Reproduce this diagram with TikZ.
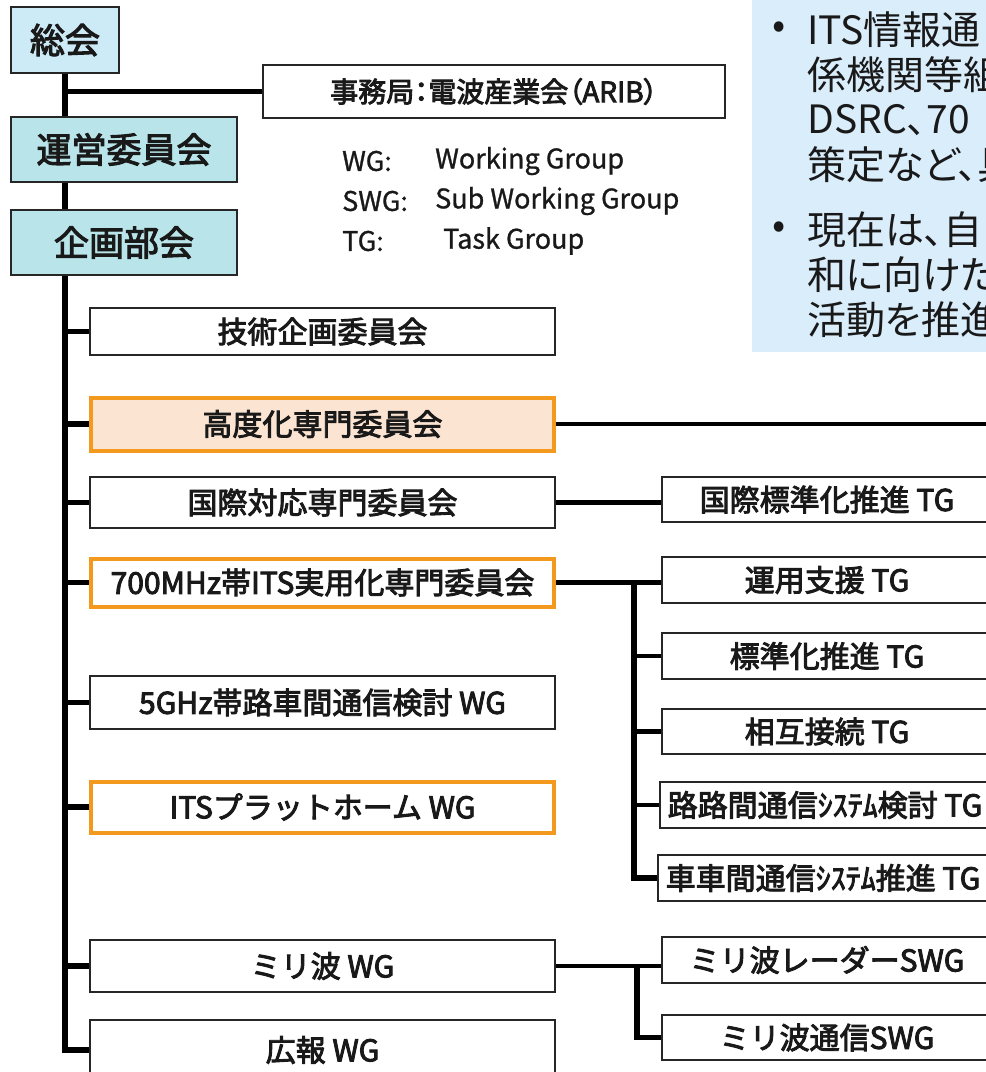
\documentclass[tikz,border=0pt]{standalone}
\usepackage{fontspec}
\usetikzlibrary{backgrounds}
\newfontfamily\jp{Noto Sans CJK JP}[FakeBold=1]
\newfontfamily\jpm{Noto Sans CJK JP}[FakeBold=3]
\newfontfamily\jpmp{Noto Sans CJK JP}[FakeBold=3,RawFeature=+palt]
\newfontfamily\jpp{Noto Sans CJK JP}[RawFeature=+palt]
\definecolor{sokaiC}{HTML}{CDEAF7}
\definecolor{uneiC}{HTML}{B9E5EA}
\definecolor{blueBox}{HTML}{DAEDFB}
\definecolor{peachC}{HTML}{FCE4D2}
\definecolor{orangeB}{HTML}{F39A1E}
\begin{document}
\begin{tikzpicture}[x=1pt,y=-1pt,
  box/.style={draw=black!85,line width=1.3pt,fill=white,inner sep=0pt,text=black!90,font=\jpm\fontsize{30}{34}\selectfont},
  topbox/.style={box,font=\jpm\fontsize{35}{40}\selectfont},
  hlbox/.style={box,draw=orangeB,line width=4pt},
  trunk/.style={line width=5.5pt,draw=black},
  subline/.style={line width=4.5pt,draw=black},
  legend/.style={anchor=west,inner sep=0pt,text=black!90,font=\jp\fontsize{27}{30}\selectfont},
  bluetext/.style={anchor=west,inner sep=0pt,text=black!90,font=\jpp\fontsize{39}{42}\selectfont}
]
\useasboundingbox (0,0) rectangle (986,1072);
\clip (0,0) rectangle (986,1072);

% information panel
\fill[blueBox] (752,-10) rectangle (1000,352);
\node[bluetext,anchor=center] (bu1) at (779,30) {•};
\node[bluetext] (b1) at (807,30) {ITS情報通};
\node[bluetext] (b2) at (807,75) {係機関等組};
\node[bluetext] (b3) at (807,120) {DSRC、70};
\node[bluetext] (b4) at (807,165) {策定など、具};
\node[bluetext,anchor=center] (bu2) at (779,230) {•};
\node[bluetext] (b5) at (807,230) {現在は、自};
\node[bluetext] (b6) at (807,275) {和に向けた};
\node[bluetext] (b7) at (807,320) {活動を推進};

% top boxes
\node[topbox,fill=sokaiC,minimum width=108pt,minimum height=66pt] (sokai) at (65,40) {総会};
\node[topbox,fill=uneiC,minimum width=226pt,minimum height=65pt] (unei) at (124,149.5) {運営委員会};
\node[topbox,fill=uneiC,minimum width=226pt,minimum height=65pt] (kikaku) at (124,242.5) {企画部会};
\node[box,font=\jpmp\fontsize{28}{32}\selectfont,minimum width=462pt,minimum height=53pt] (jimu) at (494,91.5) {事務局：電波産業会（ARIB）};

% legend
\node[legend] (lwg) at (342,161) {WG:};
\node[legend] (lwgt) at (435,161) {Working Group};
\node[legend] (lswg) at (342,201) {SWG:};
\node[legend] (lswgt) at (435,201) {Sub Working Group};
\node[legend] (ltg) at (342,241) {TG:};
\node[legend] (ltgt) at (443,241) {Task Group};

% left column
\node[box,minimum width=465pt,minimum height=47pt] (tech) at (322.5,331.5) {技術企画委員会};
\node[hlbox,fill=peachC,minimum width=463pt,minimum height=53pt] (kodo) at (322.5,424) {高度化専門委員会};
\node[box,minimum width=465pt,minimum height=51pt] (kokusai) at (322.5,502.5) {国際対応専門委員会};
\node[hlbox,minimum width=463pt,minimum height=48pt] (mhz) at (322.5,582.5) {700MHz帯ITS実用化専門委員会};
\node[box,minimum width=465pt,minimum height=53pt] (ghz) at (322.5,702.5) {5GHz帯路車間通信検討 WG};
\node[hlbox,minimum width=463pt,minimum height=51pt] (itsp) at (322.5,807) {ITSプラットホーム WG};
\node[box,minimum width=465pt,minimum height=52pt] (miri) at (322.5,966) {ミリ波 WG};
\node[box,minimum width=465pt,minimum height=60pt] (koho) at (322.5,1050) {広報 WG};

% right column
\node[box,minimum width=330pt,minimum height=45pt] (kstd) at (827,499.5) {国際標準化推進 TG};
\node[box,minimum width=330pt,minimum height=46pt] (unyo) at (827,580) {運用支援 TG};
\node[box,minimum width=330pt,minimum height=46pt] (hyojun) at (827,656) {標準化推進 TG};
\node[box,minimum width=330pt,minimum height=45pt] (sogo) at (827,731.5) {相互接続 TG};
\node[box,minimum width=330pt,minimum height=46pt] (roro) at (825,805) {路路間通信ｼｽﾃﾑ検討 TG};
\node[box,minimum width=330pt,minimum height=46pt] (shasha) at (823,878) {車車間通信ｼｽﾃﾑ推進 TG};
\node[box,minimum width=330pt,minimum height=46pt] (radar) at (827,960) {ミリ波レーダーSWG};
\node[box,minimum width=330pt,minimum height=45pt] (tsushin) at (827,1037.5) {ミリ波通信SWG};

\coordinate (kodoend) at (1000,424);
\coordinate (j1) at (634,582.5);
\coordinate (j2) at (637,966);

\begin{scope}[on background layer]
  \draw[trunk] (sokai.south) -- (sokai.south |- koho.west) -- (koho.west);
  \draw[trunk] (sokai.south |- jimu.west) -- (jimu.west);
  \foreach \n in {tech,kodo,kokusai,mhz,ghz,itsp,miri}
    \draw[trunk] (sokai.south |- \n.west) -- (\n.west);
  \draw[subline] (kodo.east) -- (kodoend);
  \draw[subline] (kokusai.east) -- (kokusai.east -| kstd.west);
  \draw[subline] (mhz.east) -- (mhz.east -| unyo.west);
  \draw[trunk] (j1) |- (shasha.west);
  \foreach \n in {hyojun,sogo,roro}
    \draw[subline] (j1 |- \n.west) -- (\n.west);
  \draw[subline] (miri.east) -- (miri.east -| radar.west);
  \draw[trunk] (j2) |- (tsushin.west);
\end{scope}
\end{tikzpicture}
\end{document}
